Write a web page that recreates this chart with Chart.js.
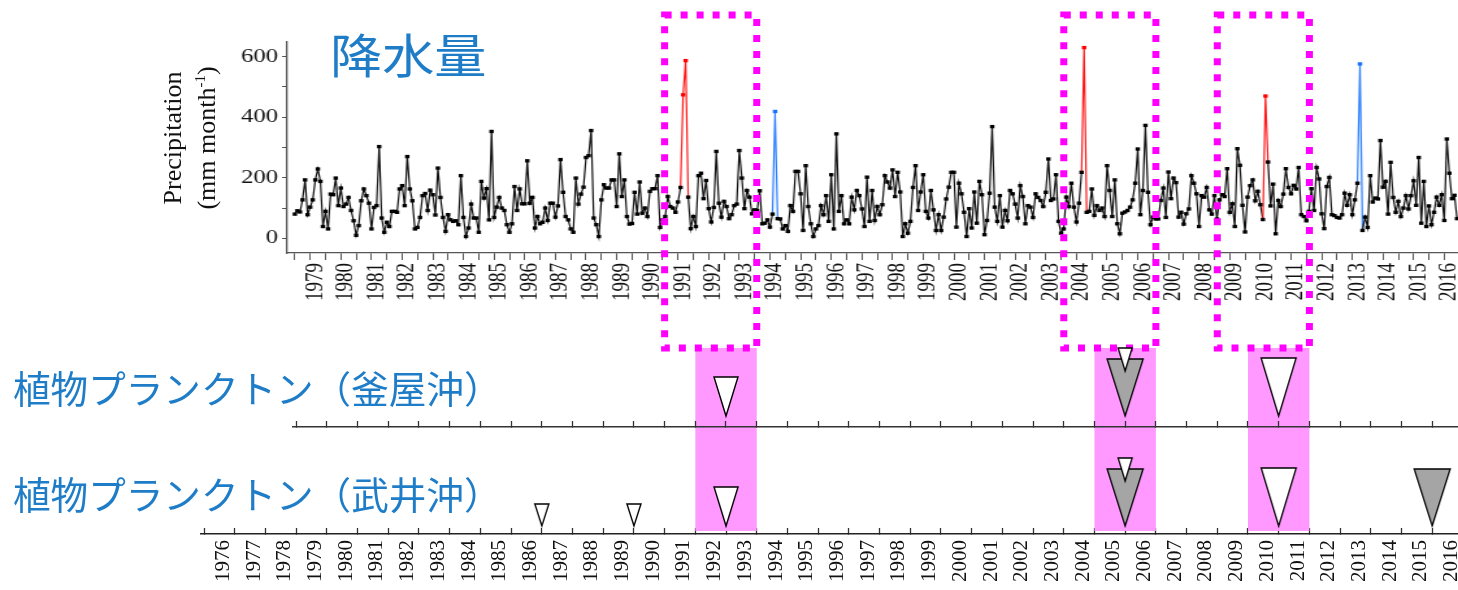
<!DOCTYPE html>
<html>
<head>
<meta charset="utf-8">
<script src="https://cdn.jsdelivr.net/npm/chart.js@4.4.1/dist/chart.umd.min.js"></script>
<style>
html, body { margin: 0; padding: 0; background: #fff; }
body { width: 1458px; height: 590px; position: relative; overflow: hidden; }
#precipWrap { position: absolute; left: 0; top: 0; width: 1122px; height: 310px; transform: scaleX(1.2995); transform-origin: 0 0; }
#takeiWrap { position: absolute; left: 0; top: 0; width: 1458px; height: 590px; }
#kamaiyaWrap { position: absolute; left: 0; top: 330px; width: 1458px; height: 110px; }
.jp { position: absolute; font-family: "Noto Sans CJK JP"; color: #1f7dc8; white-space: nowrap; line-height: 1; }
#title { left: 330px; top: 29px; font-size: 47px; transform: scaleX(1.11); transform-origin: 0 0; }
#rowLabel1 { left: 13px; top: 368px; font-size: 37.6px; }
#rowLabel2 { left: 13px; top: 474px; font-size: 37.6px; }
#ytitle { position: absolute; left: 70px; top: 104px; width: 240px; height: 68px; font-family: "Liberation Serif"; font-size: 26px; line-height: 34px; text-align: center; color: #111; transform: rotate(-90deg); }
#ytitle sup { font-size: 15px; line-height: 0; }
</style>
</head>
<body>
<div id="precipWrap"><canvas id="precipChart"></canvas></div>
<div id="takeiWrap"><canvas id="takeiChart"></canvas></div>
<div id="kamaiyaWrap"><canvas id="kamaiyaChart"></canvas></div>
<div class="jp" id="title">降水量</div>
<div class="jp" id="rowLabel1">植物プランクトン（釜屋沖）</div>
<div class="jp" id="rowLabel2">植物プランクトン（武井沖）</div>
<div id="ytitle">Precipitation<br>(mm month<sup>-1</sup>)</div>
<script>
// monthly precipitation (mm), Jan 1979 - Dec 2016, one row per year
var startYear = 1979;
var precipitation = [
  80, 91, 87, 127, 193, 78, 103, 127, 193, 229, 188, 39,
  89, 31, 146, 144, 199, 108, 166, 105, 113, 135, 92, 58,
  10, 42, 124, 163, 141, 116, 31, 102, 108, 303, 67, 20,
  53, 39, 89, 89, 86, 163, 174, 108, 270, 163, 124, 31,
  36, 69, 141, 148, 92, 159, 144, 77, 232, 135, 69, 23,
  78, 61, 56, 58, 45, 207, 69, 6, 34, 113, 67, 67,
  20, 188, 133, 164, 61, 353, 69, 103, 135, 100, 92, 45,
  20, 48, 171, 92, 163, 114, 114, 256, 116, 135, 34, 72,
  48, 53, 100, 59, 116, 116, 70, 107, 260, 152, 72, 61,
  31, 20, 199, 113, 146, 169, 267, 273, 356, 67, 45, 6,
  127, 177, 166, 166, 193, 193, 105, 279, 138, 193, 72, 47,
  49, 152, 80, 186, 83, 100, 72, 155, 164, 164, 207, 36,
  61, 72, 138, 105, 100, 86, 120, 168, 474, 587, 136, 32,
  72, 39, 207, 215, 131, 191, 98, 54, 102, 287, 116, 70,
  122, 105, 65, 78, 108, 113, 290, 199, 98, 158, 136, 81,
  94, 92, 157, 48, 50, 61, 37, 80, 419, 65, 64, 31,
  42, 23, 108, 89, 221, 221, 147, 26, 240, 105, 48, 6,
  31, 42, 108, 78, 141, 56, 210, 31, 345, 89, 141, 48,
  61, 48, 136, 94, 158, 141, 97, 39, 202, 56, 158, 59,
  105, 78, 111, 207, 186, 166, 226, 138, 218, 153, 6, 48,
  17, 56, 168, 240, 92, 153, 210, 89, 67, 158, 94, 26,
  78, 26, 70, 130, 169, 218, 218, 37, 182, 147, 86, 6,
  98, 34, 153, 50, 188, 144, 12, 59, 149, 369, 103, 56,
  141, 37, 92, 58, 158, 147, 113, 67, 174, 138, 48, 108,
  103, 69, 147, 135, 125, 105, 152, 262, 125, 130, 210, 56,
  17, 31, 136, 105, 182, 103, 54, 116, 218, 630, 86, 89,
  163, 76, 108, 92, 100, 72, 240, 158, 72, 193, 48, 15,
  83, 87, 92, 103, 127, 182, 295, 78, 158, 373, 152, 45,
  70, 64, 64, 125, 166, 69, 219, 131, 199, 184, 70, 86,
  47, 81, 97, 207, 182, 147, 39, 141, 136, 168, 94, 80,
  141, 64, 127, 144, 138, 230, 86, 114, 39, 296, 241, 109,
  21, 136, 174, 193, 124, 155, 111, 62, 470, 252, 107, 179,
  15, 125, 105, 146, 230, 168, 147, 175, 163, 234, 78, 72,
  58, 89, 164, 92, 234, 196, 81, 32, 171, 201, 78, 75,
  69, 67, 78, 149, 109, 144, 78, 127, 182, 576, 26, 70,
  36, 207, 120, 133, 130, 323, 169, 188, 80, 251, 135, 86,
  122, 72, 100, 141, 97, 141, 190, 109, 267, 50, 188, 39,
  107, 45, 86, 136, 109, 144, 59, 328, 215, 131, 142, 65
];
var redMonths = ['1991-09', '1991-10', '2004-10', '2010-09'];
var blueMonths = ['1994-09', '2013-10'];
var precipTicks = [0, 100, 200, 300, 400, 500, 600];
var precipTickLabels = ['0', '', '200', '', '400', '', '600'];

// phytoplankton events (year, triangle kind)
var kamaiyaYears = [1993, 2006, 2011];
var kamaiyaKinds = ['M', 'GS', 'L'];
var takeiYears = [1987, 1990, 1993, 2006, 2011, 2016];
var takeiKinds = ['S', 'S', 'M', 'GS', 'L', 'G'];

// periods: pink shading and dashed boxes
var shadedFrom = [1992, 2005, 2010];
var shadedTo = [1994, 2007, 2012];
var boxedFrom = [1991, 2004, 2009];
var boxedTo = [1994, 2007, 2012];

var topYearLabels = [];
for (var y = 1979; y <= 2016; y++) topYearLabels.push(String(y));
var bottomYearLabels = [];
for (var y2 = 1976; y2 <= 2016; y2++) bottomYearLabels.push(String(y2));

Chart.defaults.font.family = 'Liberation Serif';
Chart.defaults.color = '#111';

function monthIndex(s) {
  var p = s.split('-');
  return (parseInt(p[0]) - startYear) * 12 + parseInt(p[1]) - 1;
}
var redIdx = redMonths.map(monthIndex);
var blueIdx = blueMonths.map(monthIndex);

function isHalf(v) { return Math.abs(v - Math.floor(v) - 0.5) < 1e-6; }
function isWhole(v) { return Math.abs(v - Math.round(v)) < 1e-6; }
function halfLabel(list) {
  return function(v) {
    var s = String(Math.floor(v));
    return isHalf(v) && list.indexOf(s) >= 0 ? s : '';
  };
}
function noPad(h) {
  return function(s) { s.height = h; s.paddingLeft = 0; s.paddingRight = 0; };
}

var precipPoints = precipitation.map(function(v, i) {
  return { x: startYear + i / 12, y: v };
});
function pointColor(i) {
  if (redIdx.indexOf(i) >= 0) return '#ff0000';
  if (blueIdx.indexOf(i) >= 0) return '#1a6fff';
  return '#000';
}
function segColor(a, b) {
  if (redIdx.indexOf(a) >= 0 || redIdx.indexOf(b) >= 0) return '#ff1a1a';
  if (blueIdx.indexOf(a) >= 0 || blueIdx.indexOf(b) >= 0) return '#2a7fff';
  return '#111';
}

//########################## precipitation ##########################//
new Chart(document.getElementById('precipChart'), {
  type: 'line',
  data: {
    datasets: [{
      data: precipPoints,
      borderColor: '#111',
      borderWidth: 1.2,
      pointStyle: 'rect',
      pointRadius: 2.4,
      pointBorderWidth: 0,
      pointBackgroundColor: function(ctx) { return pointColor(ctx.dataIndex); },
      segment: { borderColor: function(ctx) { return segColor(ctx.p0DataIndex, ctx.p1DataIndex); } },
      tension: 0,
      clip: false
    }]
  },
  options: {
    responsive: true,
    maintainAspectRatio: false,
    animation: false,
    events: [],
    layout: { autoPadding: false, padding: { top: 42, left: 0, right: 0, bottom: 0 } },
    plugins: { legend: { display: false }, tooltip: { enabled: false } },
    scales: {
      x: {
        type: 'linear', min: 1978.75, max: 2016.95,
        ticks: { stepSize: 0.5, autoSkip: false, minRotation: 90, maxRotation: 90, includeBounds: false,
          padding: 3, labelOffset: 4, font: { size: 19 }, color: '#111', callback: halfLabel(topYearLabels) },
        grid: { drawOnChartArea: false, tickLength: 7, color: '#555', tickWidth: 1 },
        border: { color: '#555', width: 1.3 },
        afterFit: noPad(57)
      },
      y: {
        min: -48.5, max: 648.5,
        afterBuildTicks: function(s) { s.ticks = precipTicks.map(function(v) { return { value: v }; }); },
        ticks: { autoSkip: false, padding: 3, font: { size: 19 }, color: '#111',
          callback: function(v, i) { return precipTickLabels[i]; } },
        grid: { drawOnChartArea: false, tickLength: 4, color: '#555', tickWidth: 1 },
        border: { color: '#555', width: 1.3 },
        afterFit: function(s) { s.width = 221; s.paddingTop = 0; s.paddingBottom = 0; }
      }
    }
  }
});

//########################## triangles ##########################//
var triangleShapes = {
  S: { w: 14, h: 22, fill: '#fff' },
  M: { w: 24, h: 39, fill: '#fff' },
  L: { w: 35, h: 58, fill: '#fff' },
  G: { w: 36, h: 57, fill: '#a5a5a5' },
  GS: { w: 36, h: 57, fill: '#a5a5a5', cap: { w: 14, h: 23, rise: 11 } }
};
function triangleImage(kind, gap) {
  var t = triangleShapes[kind];
  var top = t.h + (t.cap ? t.cap.rise : 0);
  var half = top + gap + 3;
  var c = document.createElement('canvas');
  c.width = t.w + 6;
  c.height = half * 2;
  var g = c.getContext('2d');
  var cx = c.width / 2;
  var tip = half - gap;
  function tri(w, h, tipY, fill) {
    g.beginPath();
    g.moveTo(cx - w / 2, tipY - h);
    g.lineTo(cx + w / 2, tipY - h);
    g.lineTo(cx, tipY);
    g.closePath();
    g.fillStyle = fill;
    g.fill();
    g.lineWidth = 1.4;
    g.strokeStyle = '#000';
    g.stroke();
  }
  tri(t.w, t.h, tip, t.fill);
  if (t.cap) tri(t.cap.w, t.cap.h, tip - t.h - t.cap.rise + t.cap.h, '#fff');
  return c;
}

function eventDataset(years, kinds, gap) {
  var imgs = kinds.map(function(k) { return triangleImage(k, gap); });
  return {
    type: 'scatter',
    data: years.map(function(yr) { return { x: yr, y: 0 }; }),
    pointStyle: function(ctx) { return imgs[ctx.dataIndex]; },
    pointRadius: 5,
    clip: false
  };
}

var periodPlugin = {
  id: 'periods',
  beforeDatasetsDraw: function(chart) {
    var ctx = chart.ctx, x = chart.scales.x, area = chart.chartArea;
    ctx.save();
    ctx.fillStyle = '#ff99ff';
    for (var i = 0; i < shadedFrom.length; i++) {
      var a = x.getPixelForValue(shadedFrom[i]), b = x.getPixelForValue(shadedTo[i]);
      ctx.fillRect(a, area.top, b - a, area.bottom - area.top - 3);
    }
    ctx.restore();
  },
  afterDatasetsDraw: function(chart) {
    var ctx = chart.ctx, x = chart.scales.x;
    ctx.save();
    ctx.strokeStyle = '#ff00ff';
    ctx.lineWidth = 7;
    ctx.setLineDash([7, 9]);
    for (var i = 0; i < boxedFrom.length; i++) {
      var a = x.getPixelForValue(boxedFrom[i]), b = x.getPixelForValue(boxedTo[i]);
      ctx.strokeRect(a, 15, b - a, 333);
    }
    ctx.restore();
  }
};

var baseOpts = {
  responsive: true,
  maintainAspectRatio: false,
  animation: false,
  events: [],
  plugins: { legend: { display: false }, tooltip: { enabled: false } }
};

//########################## 武井沖 (with bottom axis) ##########################//
new Chart(document.getElementById('takeiChart'), {
  data: { datasets: [eventDataset(takeiYears, takeiKinds, 8)] },
  options: Object.assign({}, baseOpts, {
    layout: { autoPadding: false, padding: { top: 348, left: 201, right: 0, bottom: 0 } },
    scales: {
      x: {
        type: 'linear', min: 1975.9, max: 2016.84,
        ticks: { stepSize: 0.5, autoSkip: false, minRotation: 90, maxRotation: 90, includeBounds: false,
          padding: 12, labelOffset: 4, font: { size: 21 }, color: '#111', callback: halfLabel(bottomYearLabels) },
        grid: { drawOnChartArea: false, tickLength: -6, tickWidth: 1.3,
          tickColor: function(c) { return c.tick && isWhole(c.tick.value) ? '#333' : 'rgba(0,0,0,0)'; } },
        border: { color: '#222', width: 1.6 },
        afterFit: noPad(56)
      },
      y: { display: false, min: 0, max: 1 }
    }
  }),
  plugins: [periodPlugin]
});

//########################## 釜屋沖 ##########################//
new Chart(document.getElementById('kamaiyaChart'), {
  data: { datasets: [eventDataset(kamaiyaYears, kamaiyaKinds, 11)] },
  options: Object.assign({}, baseOpts, {
    layout: { autoPadding: false, padding: { top: 15, left: 293, right: 0, bottom: 0 } },
    scales: {
      x: {
        type: 'linear', min: 1978.9, max: 2016.84,
        ticks: { stepSize: 1, autoSkip: false, includeBounds: false, display: false },
        grid: { drawOnChartArea: false, tickLength: -6, tickWidth: 1.3, tickColor: '#333' },
        border: { color: '#333', width: 1.6 },
        afterFit: noPad(13)
      },
      y: { display: false, min: 0, max: 1 }
    }
  })
});
</script>
</body>
</html>
